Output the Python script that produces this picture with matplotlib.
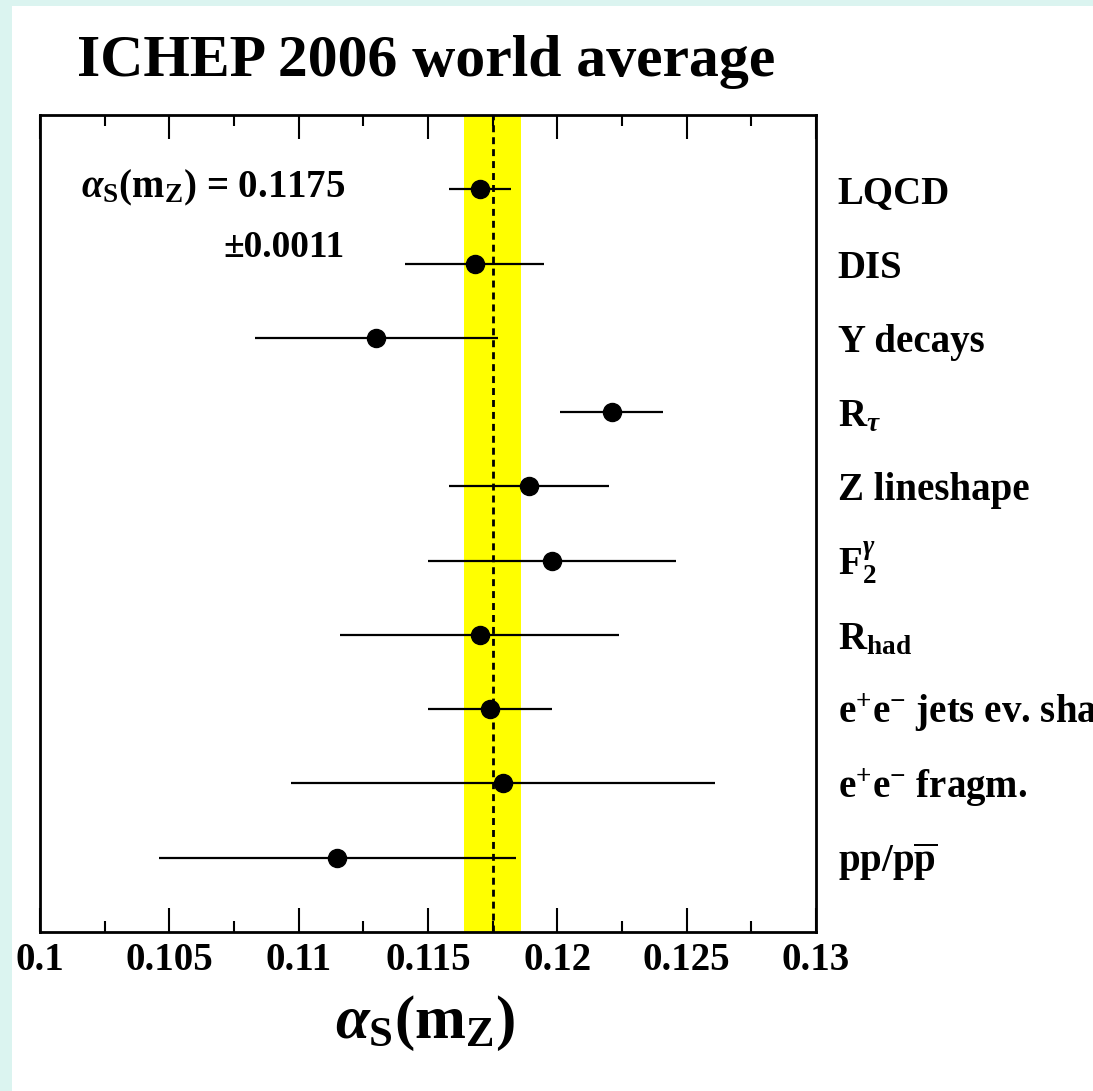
import matplotlib
matplotlib.use("Agg")
import matplotlib.pyplot as plt
from matplotlib.patches import Rectangle
from matplotlib.ticker import MultipleLocator

# ---- data ----
labels = [
    "LQCD",
    "DIS",
    "Y decays",
    r"R$_\tau$",
    "Z lineshape",
    r"F$_\mathrm{2}^\gamma$",
    r"R$_\mathrm{had}$",
    r"e$^\mathrm{+}$e$^\mathrm{-}$ jets ev. shapes",
    r"e$^\mathrm{+}$e$^\mathrm{-}$ fragm.",
    r"pp/p$\overline{\mathrm{p}}$",
]
values = [0.1170, 0.1168, 0.1130, 0.1221, 0.1189, 0.1198, 0.1170, 0.1174, 0.1179, 0.1115]
errors = [0.0012, 0.0027, 0.0047, 0.0020, 0.0031, 0.0048, 0.0054, 0.0024, 0.0082, 0.0069]
world_avg = 0.1175
world_err = 0.0011
xticks = [0.1, 0.105, 0.11, 0.115, 0.12, 0.125, 0.13]
xtick_labels = ["0.1", "0.105", "0.11", "0.115", "0.12", "0.125", "0.13"]

plt.rcParams["font.family"] = ["Liberation Serif", "DejaVu Serif"]
plt.rcParams["font.weight"] = "bold"
plt.rcParams["mathtext.fontset"] = "custom"
plt.rcParams["mathtext.rm"] = "Liberation Serif:bold"
plt.rcParams["mathtext.bf"] = "Liberation Serif:bold"
plt.rcParams["mathtext.it"] = "Liberation Serif:italic"
plt.rcParams["mathtext.sf"] = "Liberation Serif:bold"

W, H = 1093, 1091
fig = plt.figure(figsize=(W / 100, H / 100), dpi=100)
fig.patch.set_facecolor("#DBF4F0")
fig.patches.append(Rectangle((12 / W, 0), 1 - 12 / W, 1 - 6 / H, transform=fig.transFigure,
                             facecolor="white", edgecolor="none", zorder=-10))

ax = fig.add_axes([40 / W, 1 - 932 / H, (816 - 40) / W, (932 - 115) / H])
ax.set_zorder(1)
ax.set_facecolor("white")

ypos = list(range(1, len(values) + 1))

ax.axvspan(world_avg - world_err, world_avg + world_err, color="#FFFF00", zorder=1, lw=0)
ax.axvline(world_avg, color="black", lw=2, dashes=(2.5, 1.8), zorder=2)
ax.errorbar(values, ypos, xerr=errors, fmt="o", color="black", ms=13,
            elinewidth=1.6, capsize=0, zorder=3)

ax.set_xlim(0.1, 0.13)
ax.set_ylim(11, 0)
ax.set_yticks([])
ax.set_xticks(xticks)
ax.set_xticklabels(xtick_labels, fontsize=28, fontweight="bold")
ax.xaxis.set_minor_locator(MultipleLocator(0.0025))
ax.tick_params(axis="x", which="major", direction="in", length=17, width=1.5,
               top=True, bottom=True, pad=7)
ax.tick_params(axis="x", which="minor", direction="in", length=8, width=1.5,
               top=True, bottom=True)
for s in ax.spines.values():
    s.set_linewidth(2)

# category labels at right
trans = ax.get_yaxis_transform()
for y, lab in zip(ypos, labels):
    ax.text(1.028, y + 0.19, lab, transform=trans, fontsize=28, fontweight="bold",
            ha="left", va="baseline", clip_on=False)

# annotation
fig.text(345 / W, 1 - 197 / H, r"$\alpha_\mathrm{S}(\mathrm{m}_\mathrm{Z})$ = 0.1175",
         fontsize=28, fontweight="bold", ha="right", va="baseline")
fig.text(345 / W, 1 - 257 / H, "\u00b10.0011", fontsize=27, fontweight="bold",
         ha="right", va="baseline")

# title
fig.text(426 / W, 1 - 76 / H, "ICHEP 2006 world average", fontsize=43,
         fontweight="bold", ha="center", va="baseline")

# x label
fig.text(425 / W, 1 - 1038 / H, r"$\alpha_\mathrm{S}(\mathrm{m}_\mathrm{Z})$",
         fontsize=44, ha="center", va="baseline")

fig.savefig("out.png", dpi=100, facecolor=fig.get_facecolor())
